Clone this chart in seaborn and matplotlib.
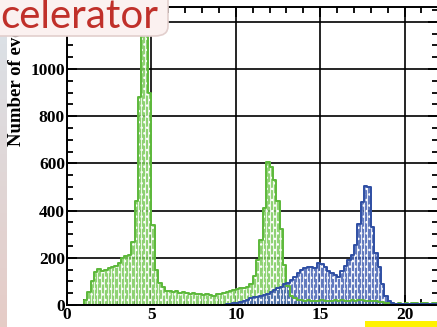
import numpy as np
import pandas as pd
import matplotlib
matplotlib.use("Agg")
import matplotlib.pyplot as plt
from matplotlib.ticker import MultipleLocator
from matplotlib.patches import FancyBboxPatch, Rectangle
import seaborn as sns

# Histogram bins (0 to 22, width 0.2)
bin_edges = [round(0.2 * i, 2) for i in range(111)]

# Counts per bin, first spectrum (green)
green_counts = [
    0, 0, 0, 0, 0,
    20, 55, 100, 140, 152,
    145, 150, 158, 162, 165,
    178, 200, 208, 212, 265,
    440, 880, 1300, 1300, 900,
    340, 150, 95, 75, 60,
    58, 55, 60, 52, 56,
    50, 48, 52, 45, 48,
    42, 46, 44, 40, 45,
    48, 52, 55, 58, 62,
    66, 70, 72, 78, 88,
    125, 190, 275, 410, 605,
    585, 530, 440, 320, 170,
    80, 40, 28, 22, 20,
    18, 20, 18, 16, 18,
    20, 18, 16, 18, 20,
    18, 20, 18, 16, 20,
    18, 20, 22, 18, 16,
    18, 16, 14, 12, 10,
    8, 8, 6, 8, 6,
    8, 6, 8, 8, 6,
    8, 8, 6, 8, 8,
]

# Counts per bin, second spectrum (blue)
blue_counts = [0] * 45 + [
    0, 0, 3, 5, 8,
    10, 14, 18, 22, 28,
    32, 36, 40, 44, 48,
    55, 62, 70, 75, 88,
    95, 105, 118, 135, 150,
    158, 163, 160, 158, 178,
    172, 160, 145, 135, 128,
    120, 142, 165, 190, 210,
    255, 345, 435, 505, 500,
    330, 220, 160, 90, 40,
    18, 8, 5, 4, 4,
    3, 3, 3, 3, 3,
    3, 3, 3, 3, 3,
]

x_ticks = [0, 5, 10, 15, 20]
y_ticks = [0, 200, 400, 600, 800, 1000, 1200]
y_ticklabels = ["0", "200", "400", "600", "800", "1000", ""]

df = pd.DataFrame({
    "energy": np.array(bin_edges[:-1]) + 0.1,
    "green": green_counts,
    "blue": blue_counts,
})

W, H = 437, 327
fig = plt.figure(figsize=(W / 100, H / 100), dpi=100)
ax = fig.add_axes([67 / W, 22 / H, (438.3 - 67) / W, (320 - 22) / H])

serif = dict(family="Liberation Serif", weight="bold")

series = [
    ("green", "#7ccb5c", "#5cb83a"),
    ("blue", "#4763b3", "#2e4ea3"),
]
for col, fill, line in series:
    sns.histplot(data=df, x="energy", weights=col, bins=bin_edges,
                 element="bars", color=fill, edgecolor="white",
                 linewidth=0.5, hatch="...", alpha=0.85, ax=ax)
    sns.histplot(data=df, x="energy", weights=col, bins=bin_edges,
                 element="step", fill=False, color=line,
                 linewidth=1.4, ax=ax)

ax.set_xlim(0, 22)
ax.set_ylim(0, 1263)
ax.set_xticks(x_ticks)
ax.set_yticks(y_ticks)
ax.set_xticklabels([str(t) for t in x_ticks], fontsize=12.5, **serif)
ax.set_yticklabels(y_ticklabels, fontsize=12.5, **serif)
ax.xaxis.set_minor_locator(MultipleLocator(1))
ax.yaxis.set_minor_locator(MultipleLocator(50))
ax.tick_params(which="both", direction="in", top=True, right=True,
               width=1.3, color="black")
ax.tick_params(which="major", length=7, pad=1.5)
ax.tick_params(which="minor", length=4)
ax.grid(True, which="major", color="black", linewidth=1.2)
ax.set_axisbelow(True)
for s in ax.spines.values():
    s.set_linewidth(1.4)
    s.set_color("black")
ax.set_xlabel("")
ax.set_ylabel("")

fig.text(17 / W, 1 - 146 / H, "Number of events", rotation=90,
         ha="center", va="bottom", fontsize=13.5, zorder=3, **serif)

# Side strip
strip = fig.add_axes([0, 0, 7 / W, 292 / H], zorder=5)
grad = np.linspace(0, 1, 64)[:, None, None]
top_c = np.array([0.86, 0.88, 0.90])
bot_c = np.array([0.90, 0.80, 0.78])
strip.imshow(top_c * (1 - grad) + bot_c * grad, aspect="auto")
strip.axis("off")

# Title banner
fig.patches.append(FancyBboxPatch((-20 / W, 291 / H), 188 / W, 60 / H,
                                  boxstyle="round,pad=0,rounding_size=0.03",
                                  transform=fig.transFigure, facecolor="#fbf1f0",
                                  edgecolor="#e2cfcd", linewidth=1.2, zorder=10))
fig.text(0 / W, 1 - 28 / H, "celerator", color="#c0302a", fontsize=29,
         family="Lato", ha="left", va="baseline", zorder=11)

# Highlight bar
fig.patches.append(Rectangle((365 / W, 0), 80 / W, 6 / H,
                             transform=fig.transFigure, facecolor="#fff200",
                             edgecolor="none", zorder=10))

fig.savefig("out.png", dpi=100)
